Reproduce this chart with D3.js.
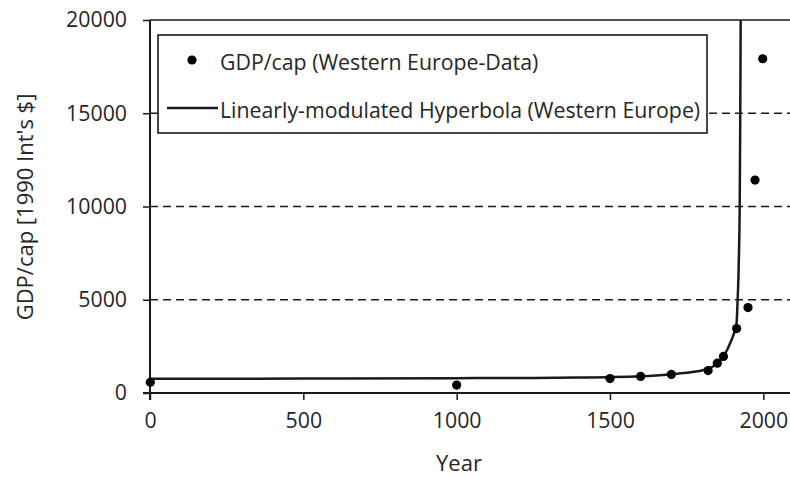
<!DOCTYPE html>
<html>
<head>
<meta charset="utf-8">
<script src="https://cdn.jsdelivr.net/npm/d3@7"></script>
<style>
  html, body { margin: 0; padding: 0; background: #fff; }
  svg { display: block; font-family: "Open Sans", "Noto Sans", sans-serif; }
</style>
</head>
<body>
<svg id="chart" width="790" height="477"></svg>
<script>
// Western Europe GDP per capita (1990 international dollars)
const dataYears  = [1, 1000, 1500, 1600, 1700, 1820, 1850, 1870, 1913, 1950, 1973, 1998];
const dataValues = [576, 427, 771, 889, 997, 1202, 1600, 1960, 3457, 4578, 11417, 17921];

// Fitted linearly-modulated hyperbola, sampled along the drawn curve
const fitYears  = [0, 500, 1000, 1250, 1400, 1500, 1600, 1650, 1700, 1750, 1780, 1800, 1820, 1840, 1850, 1860, 1870, 1880, 1890, 1900, 1908, 1913, 1916, 1919, 1921, 1923, 1924.5, 1925.5, 1926.3];
const fitValues = [760, 775, 795, 810, 830, 850, 895, 940, 1005, 1085, 1150, 1210, 1300, 1460, 1580, 1760, 1980, 2250, 2600, 3000, 3400, 3800, 4900, 6300, 7800, 10000, 14000, 17500, 20600];

const yTicks = [0, 5000, 10000, 15000, 20000];
const xTicks = [0, 500, 1000, 1500, 2000];

const legendLabels = ["GDP/cap (Western Europe-Data)", "Linearly-modulated Hyperbola (Western Europe)"];
const xTitle = "Year";
const yTitle = "GDP/cap [1990 Int's $]";

const svg = d3.select("#chart");
const ink = "#1a1a1a";
const textInk = "#262626";
const fontSize = "21.3px";

const x = d3.scaleLinear().domain([0, 2087]).range([150, 790]);
const y = d3.scaleLinear().domain([0, 20000]).range([393, 20]);

svg.append("defs").append("clipPath").attr("id", "plotClip")
  .append("rect").attr("x", 140).attr("y", 20).attr("width", 660).attr("height", 380);

// Gridlines: dashed at inner ticks, solid at the top
svg.append("g").selectAll("line")
  .data(yTicks.filter(v => v > 0))
  .join("line")
  .attr("x1", 150).attr("x2", 790)
  .attr("y1", d => y(d)).attr("y2", d => y(d))
  .attr("stroke", ink)
  .attr("stroke-width", 1.5)
  .attr("stroke-dasharray", d => d === 20000 ? null : "8,5");

// Y axis
const yAxis = svg.append("g")
  .attr("transform", "translate(150,0)")
  .call(d3.axisLeft(y).tickValues(yTicks).tickSize(7).tickPadding(16).tickFormat(d3.format("d")));
yAxis.select(".domain").attr("stroke", ink).attr("stroke-width", 2).attr("d", "M0,20V400");
yAxis.selectAll(".tick line").attr("stroke", ink).attr("stroke-width", 1.5);
yAxis.selectAll(".tick text").attr("fill", textInk).style("font-size", fontSize)
  .style("font-family", "'Open Sans', sans-serif");

// X axis
const xAxis = svg.append("g")
  .attr("transform", "translate(0,393)")
  .call(d3.axisBottom(x).tickValues(xTicks).tickSize(7).tickPadding(13).tickFormat(d3.format("d")));
xAxis.select(".domain").attr("stroke", ink).attr("stroke-width", 2).attr("d", "M143,0H790");
xAxis.selectAll(".tick line").attr("stroke", ink).attr("stroke-width", 1.5);
xAxis.selectAll(".tick text").attr("fill", textInk).style("font-size", fontSize)
  .style("font-family", "'Open Sans', sans-serif");

// Fitted curve
const fit = fitYears.map((t, i) => [t, fitValues[i]]);
svg.append("path")
  .datum(fit)
  .attr("clip-path", "url(#plotClip)")
  .attr("fill", "none")
  .attr("stroke", ink)
  .attr("stroke-width", 2.5)
  .attr("d", d3.line().x(d => x(d[0])).y(d => y(d[1])).curve(d3.curveMonotoneX));

// Data points
svg.append("g").selectAll("circle")
  .data(dataYears.map((t, i) => [t, dataValues[i]]))
  .join("circle")
  .attr("cx", d => x(d[0])).attr("cy", d => y(d[1]))
  .attr("r", 4.6)
  .attr("fill", "#000");

// Legend
const lg = svg.append("g");
lg.append("rect")
  .attr("x", 158).attr("y", 35).attr("width", 549).attr("height", 98)
  .attr("fill", "#fff").attr("stroke", ink).attr("stroke-width", 1.6);
lg.append("circle").attr("cx", 192).attr("cy", 60).attr("r", 4.6).attr("fill", "#000");
lg.append("line").attr("x1", 167).attr("x2", 218).attr("y1", 108).attr("y2", 108)
  .attr("stroke", ink).attr("stroke-width", 2.5);
lg.selectAll("text.lab")
  .data(legendLabels)
  .join("text")
  .attr("class", "lab")
  .attr("x", 220)
  .attr("y", (d, i) => i === 0 ? 61 : 109)
  .attr("dominant-baseline", "central")
  .attr("fill", textInk)
  .style("font-size", fontSize)
  .text(d => d);

// Axis titles
svg.append("text")
  .attr("x", 459).attr("y", 471)
  .attr("text-anchor", "middle")
  .attr("fill", textInk)
  .style("font-size", "22px")
  .text(xTitle);

svg.append("text")
  .attr("transform", "translate(33,207) rotate(-90)")
  .attr("text-anchor", "middle")
  .attr("fill", textInk)
  .style("font-size", "22px")
  .text(yTitle);
</script>
</body>
</html>
